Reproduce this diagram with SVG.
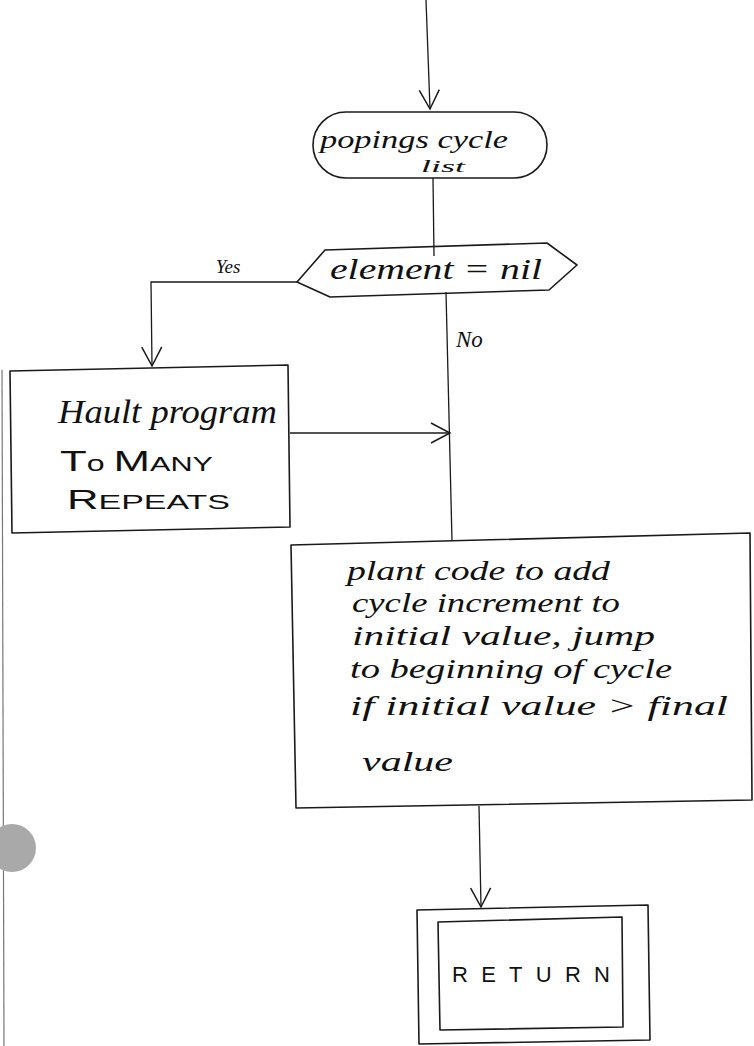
<svg xmlns="http://www.w3.org/2000/svg" width="754" height="1046" viewBox="0 0 754 1046">
<style>
.shape{fill:none;stroke:#1a1a1a;stroke-width:1.6;stroke-linejoin:round}
.conn{fill:none;stroke:#1a1a1a;stroke-width:1.3}
.hand{font-family:"Liberation Serif","DejaVu Serif",serif;font-style:italic;fill:#111}
.print{font-family:"Liberation Sans","DejaVu Sans",sans-serif;fill:#111}
</style>
<defs>
<marker id="vee" markerUnits="userSpaceOnUse" markerWidth="30" markerHeight="30" refX="0" refY="0" orient="auto" overflow="visible">
<path d="M-19,-10 L0,0 L-19,10" fill="none" stroke="#1a1a1a" stroke-width="1.5"/>
</marker>
</defs>
<rect width="754" height="1046" fill="#fff"/>
<line x1="2" y1="370" x2="4" y2="1046" stroke="#777" stroke-width="1.2"/>
<circle cx="12" cy="848" r="24" fill="#a9a9a9"/>

<g id="connectors">
<line class="conn" x1="426" y1="0" x2="430" y2="109" marker-end="url(#vee)"/>
<line class="conn" x1="433" y1="178" x2="434" y2="256"/>
<line class="conn" x1="446" y1="292" x2="452" y2="541"/>
<polyline class="conn" points="297,282 151,282 152,366" marker-end="url(#vee)"/>
<line class="conn" x1="290" y1="433" x2="450" y2="433" marker-end="url(#vee)"/>
<line class="conn" x1="479" y1="806" x2="481" y2="907" marker-end="url(#vee)"/>
<text class="hand" x="228" y="273" font-size="19" text-anchor="middle">Yes</text>
<text class="hand" x="456" y="347" font-size="23">No</text>
</g>

<g id="start">
<rect class="shape" x="313" y="112" width="234" height="66" rx="33" ry="33"/>
<text class="hand" x="320" y="148" font-size="26" textLength="188" lengthAdjust="spacingAndGlyphs">popings cycle</text>
<text class="hand" x="421" y="172" font-size="17" textLength="44" lengthAdjust="spacingAndGlyphs">list</text>
</g>

<g id="decision">
<polygon class="shape" points="297,282 325,250 547,243 577,265 549,290 330,297"/>
<text class="hand" x="330" y="279" font-size="30" textLength="212" lengthAdjust="spacingAndGlyphs">element = nil</text>
</g>

<g id="hault">
<polygon class="shape" points="10,371 288,365 290,527 12,533"/>
<text class="hand" x="58" y="423" font-size="34" textLength="219" lengthAdjust="spacingAndGlyphs">Hault program</text>
<text class="print" x="60" y="471" textLength="153" lengthAdjust="spacingAndGlyphs"><tspan font-size="30">T</tspan><tspan font-size="22">o </tspan><tspan font-size="30">M</tspan><tspan font-size="21">ANY</tspan></text>
<text class="print" x="67" y="509" textLength="163" lengthAdjust="spacingAndGlyphs"><tspan font-size="27">R</tspan><tspan font-size="21">EPEATS</tspan></text>
</g>

<g id="plant">
<polygon class="shape" points="291,545 750,533 752,800 296,808"/>
<text class="hand" x="347" y="580" font-size="28" textLength="263" lengthAdjust="spacingAndGlyphs">plant code to add</text>
<text class="hand" x="352" y="612" font-size="28" textLength="268" lengthAdjust="spacingAndGlyphs">cycle increment to</text>
<text class="hand" x="352" y="645" font-size="28" textLength="303" lengthAdjust="spacingAndGlyphs">initial value, jump</text>
<text class="hand" x="350" y="678" font-size="28" textLength="322" lengthAdjust="spacingAndGlyphs">to beginning of cycle</text>
<text class="hand" x="350" y="715" font-size="28" textLength="378" lengthAdjust="spacingAndGlyphs">if initial value &gt; final</text>
<text class="hand" x="362" y="771" font-size="28" textLength="91" lengthAdjust="spacingAndGlyphs">value</text>
</g>

<g id="return">
<polygon class="shape" points="417,910 648,905 650,1040 419,1044"/>
<polygon class="shape" points="438,922 622,917 623,1027 440,1030"/>
<text class="print" x="452" y="982" font-size="22" textLength="158" lengthAdjust="spacing">RETURN</text>
</g>
</svg>
